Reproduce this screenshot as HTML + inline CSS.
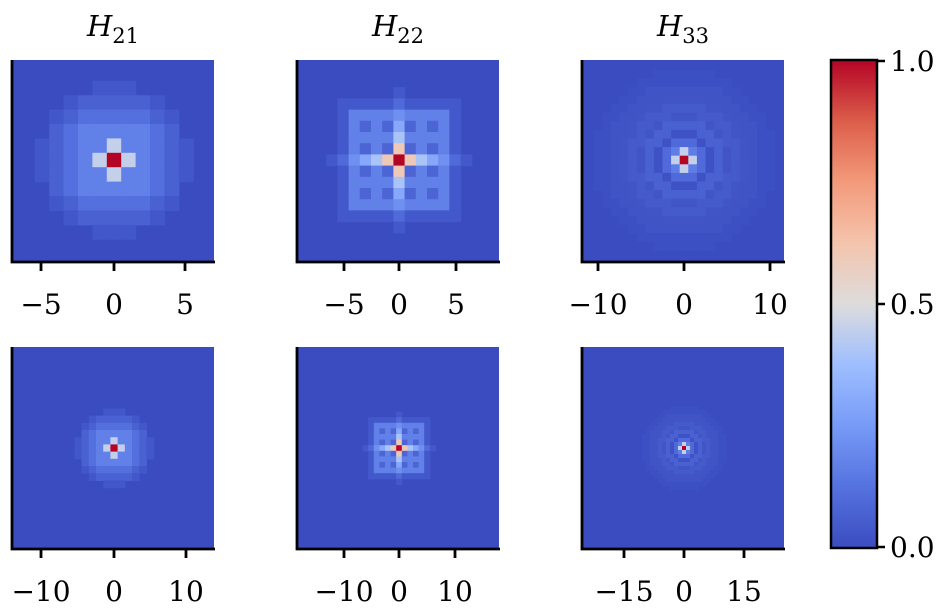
<!DOCTYPE html>
<html><head><meta charset="utf-8"><style>
html,body{margin:0;padding:0;background:#fff;width:950px;height:616px;overflow:hidden}
svg text{font-family:"DejaVu Serif","Liberation Serif",serif;fill:#000}
</style></head><body>
<svg id="s" width="950" height="616" xmlns="http://www.w3.org/2000/svg">
<defs><linearGradient id="cb" x1="0" y1="1" x2="0" y2="0">
<stop offset="0" stop-color="#3b4cc0"/><stop offset="0.125" stop-color="#5572df"/><stop offset="0.25" stop-color="#779af7"/><stop offset="0.375" stop-color="#9ebeff"/><stop offset="0.5" stop-color="#dddcdc"/><stop offset="0.625" stop-color="#f4c4ad"/><stop offset="0.75" stop-color="#f39a7b"/><stop offset="0.875" stop-color="#dc5d4a"/><stop offset="1" stop-color="#b40426"/></linearGradient>
<clipPath id="c0"><rect x="13" y="60" width="201" height="201"/></clipPath>
<clipPath id="c1"><rect x="298" y="60" width="201" height="201"/></clipPath>
<clipPath id="c2"><rect x="583" y="60" width="201" height="201"/></clipPath>
<clipPath id="c3"><rect x="13" y="347" width="201" height="201"/></clipPath>
<clipPath id="c4"><rect x="298" y="347" width="201" height="201"/></clipPath>
<clipPath id="c5"><rect x="583" y="347" width="201" height="201"/></clipPath>
</defs>
<g id="g"></g>
<text x="113" y="36" text-anchor="middle" font-style="italic" font-size="29">H<tspan font-style="normal" font-size="21" dy="7">21</tspan></text>
<text x="398" y="36" text-anchor="middle" font-style="italic" font-size="29">H<tspan font-style="normal" font-size="21" dy="7">22</tspan></text>
<text x="683" y="36" text-anchor="middle" font-style="italic" font-size="29">H<tspan font-style="normal" font-size="21" dy="7">33</tspan></text>
<rect x="831" y="60" width="46" height="488" fill="url(#cb)" stroke="#000" stroke-width="2.5"/>
<g stroke="#000" stroke-width="2.5"><line x1="877" y1="61" x2="885" y2="61"/><line x1="877" y1="304" x2="885" y2="304"/><line x1="877" y1="547" x2="885" y2="547"/></g>
<g font-size="28"><text x="890" y="71">1.0</text><text x="890" y="314">0.5</text><text x="890" y="557">0.0</text></g>
</svg>
<script>
const stops=[[0,59,76,192],[.125,85,114,223],[.25,119,154,247],[.375,158,190,255],[.5,221,220,220],[.625,244,196,173],[.75,243,154,123],[.875,220,93,74],[1,180,4,38]];
function col(v){v=Math.max(0,Math.min(1,v));for(let i=1;i<stops.length;i++){if(v<=stops[i][0]){const a=stops[i-1],b=stops[i],t=(v-a[0])/(b[0]-a[0]);return `rgb(${[1,2,3].map(k=>Math.round(a[k]+(b[k]-a[k])*t)).join(',')})`}}return 'rgb(180,4,38)'}
function f21(x,y){const ax=Math.abs(x),ay=Math.abs(y),r=Math.hypot(x,y);if(!x&&!y)return 1;if(ax+ay==1)return .45;if(r<2.9)return .17;if(r<3.7)return .12;if(r<4.5)return .07;if(r<5.2)return .035;return 0}
function f22(x,y){const ax=Math.abs(x),ay=Math.abs(y);if(!x&&!y)return 1;if(x==0||y==0){const d=ax+ay;return [0,.6,.4,.3,.22,.1,.04][d]||0}if(ax<=4&&ay<=4){return ((ax%2)&&(ay%2))?.08:.17}if(ax<=5&&ay<=5)return .04;return 0}
function f33(x,y){const ax=Math.abs(x),ay=Math.abs(y),r=Math.hypot(x,y);if(!x&&!y)return 1;if(ax+ay==1)return .45;if(r<1.6)return .16;if(r<2.6)return .1;if(r<3.3)return .02;if(r<4.5)return .07;if(r<5.3)return .03;if(r<6.5)return .05;if(r<7.5)return .03;if(r<9)return .025;if(r<10.5)return .012;return 0}
const P=[[13,60,114,160,14.4,f21],[298,60,399,160,11.2,f22],[583,60,684,160,8.6,f33],[13,347,114,448,7.2,f21],[298,347,399,448,5.6,f22],[583,347,684,448,4,f33]];
let h='';
P.forEach((p,i)=>{const[x0,y0,cx,cy,s,f]=p;h+=`<g clip-path="url(#c${i})"><rect x="${x0}" y="${y0}" width="201" height="201" fill="${col(0)}"/>`;const n=Math.ceil(101/s)+1;for(let a=-n;a<=n;a++)for(let b=-n;b<=n;b++){const v=f(a,b);if(v<=0)continue;h+=`<rect x="${(cx+a*s-s/2).toFixed(2)}" y="${(cy+b*s-s/2).toFixed(2)}" width="${(s+.6).toFixed(2)}" height="${(s+.6).toFixed(2)}" fill="${col(v)}"/>`}h+='</g>';
h+=`<path d="M${x0-1} ${y0} V${y0+202} H${x0+202}" fill="none" stroke="#000" stroke-width="2.8"/>`;});
const T=[[[41,'−5'],[114,'0'],[185,'5']],[[344,'−5'],[399,'0'],[456,'5']],[[598,'−10'],[684,'0'],[770,'10']],[[41,'−10'],[114,'0'],[186,'10']],[[344,'−10'],[399,'0'],[455,'10']],[[624,'−15'],[684,'0'],[744,'15']]];
T.forEach((t,i)=>{const yb=P[i][1]+202;t.forEach(([x,l])=>{h+=`<line x1="${x}" y1="${yb}" x2="${x}" y2="${yb+9}" stroke="#000" stroke-width="2.8"/><text x="${x}" y="${yb+52}" text-anchor="middle" font-size="28">${l}</text>`})});
document.getElementById('g').innerHTML=h;
</script>
</body></html>
